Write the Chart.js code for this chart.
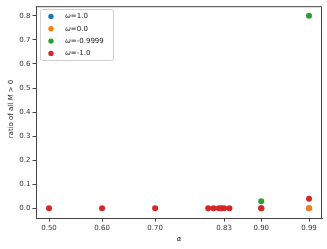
<!DOCTYPE html>
<html>
<head>
<meta charset="utf-8">
<script src="https://cdn.jsdelivr.net/npm/chart.js@4"></script>
<style>
    html, body { margin: 0; padding: 0; background: #fff; }
    #wrap { width: 327px; height: 249px; }
</style>
</head>
<body>
<div id="wrap"><canvas id="chart"></canvas></div>
<script>
const seriesNames = ['ω=1.0', 'ω=0.0', 'ω=-0.9999', 'ω=-1.0']
const seriesColors = ['#1f77b4', '#ff7f0e', '#2ca02c', '#d62728']

// alpha values and ratios per series
const blueX = [0.90, 0.99]
const blueY = [0.0, 0.0]
const orangeX = [0.90, 0.99]
const orangeY = [0.0, 0.0]
const greenX = [0.90, 0.99]
const greenY = [0.03, 0.80]
const redX = [0.50, 0.60, 0.70, 0.80, 0.81, 0.82, 0.825, 0.83, 0.84, 0.90, 0.99]
const redY = [0.0, 0.0, 0.0, 0.0, 0.0, 0.0, 0.0, 0.0, 0.0, 0.0, 0.04]

const xTicks = [0.50, 0.60, 0.70, 0.83, 0.90, 0.99]
const yTicks = [0.0, 0.1, 0.2, 0.3, 0.4, 0.5, 0.6, 0.7, 0.8]

const ctx = document.getElementById('chart')
const font = { family: 'DejaVu Sans', size: 7 }
const axisColor = '#444'

const toPoints = (xs, ys) => xs.map((x, i) => ({ x: x, y: ys[i] }))
const allX = [blueX, orangeX, greenX, redX]
const allY = [blueY, orangeY, greenY, redY]

// draws text pieces in a row, [text, italic]
const drawParts = (c, parts, x, y) => {
    const widths = parts.map(p => {
        c.font = (p[1] ? 'italic ' : '') + '7px "DejaVu Sans"'
        return c.measureText(p[0]).width
    })
    let pos = x - widths.reduce((a, b) => a + b, 0) / 2
    parts.forEach((p, i) => {
        c.font = (p[1] ? 'italic ' : '') + '7px "DejaVu Sans"'
        c.fillText(p[0], pos, y)
        pos += widths[i]
    })
}

const frame = {
    id: 'frame',
    afterDraw: chart => {
        const c = chart.ctx
        const a = chart.chartArea
        c.save()
        c.strokeStyle = axisColor
        c.lineWidth = 1
        c.beginPath()
        c.moveTo(a.left, a.top + 0.5)
        c.lineTo(a.right - 0.5, a.top + 0.5)
        c.lineTo(a.right - 0.5, a.bottom)
        c.stroke()

        // axis titles
        c.fillStyle = '#222'
        c.textBaseline = 'middle'
        c.textAlign = 'left'
        drawParts(c, [['α', true]], (a.left + a.right) / 2, 239)
        c.save()
        c.translate(11, 109)
        c.rotate(-Math.PI / 2)
        drawParts(c, [['ratio of all ', false], ['M', true], [' > 0', false]], 0, 0)
        c.restore()

        // legend
        const lx = 40, ly = 9, lw = 73, lh = 51
        c.fillStyle = 'rgba(255,255,255,0.85)'
        c.strokeStyle = '#d0d0d0'
        c.lineWidth = 1
        c.beginPath()
        c.roundRect(lx + 0.5, ly + 0.5, lw, lh, 2)
        c.fill()
        c.stroke()
        seriesNames.forEach((name, i) => {
            const y = 16.5 + i * 12.3
            c.fillStyle = seriesColors[i]
            c.beginPath()
            c.arc(51, y, 2.7, 0, Math.PI * 2)
            c.fill()
            c.fillStyle = '#222'
            c.font = 'italic 7px "DejaVu Sans"'
            c.fillText('ω', 65, y)
            const w = c.measureText('ω').width
            c.font = '7px "DejaVu Sans"'
            c.fillText(name.slice(1), 65 + w, y)
        })
        c.restore()
    }
}

new Chart(ctx, {
    type: 'scatter',
    data: {
        datasets: seriesNames.map((name, i) => ({
            label: name,
            data: toPoints(allX[i], allY[i]),
            backgroundColor: seriesColors[i],
            borderColor: seriesColors[i],
            pointRadius: 3,
            borderWidth: 0,
            order: seriesNames.length - i
        }))
    },
    options: {
        responsive: true,
        maintainAspectRatio: false,
        animation: false,
        layout: { padding: { top: 5, right: 5, left: 0, bottom: 0 } },
        plugins: {
            legend: { display: false },
            tooltip: { enabled: false }
        },
        scales: {
            x: {
                type: 'linear',
                min: 0.4755,
                max: 1.0145,
                afterBuildTicks: s => { s.ticks = xTicks.map(v => ({ value: v })) },
                afterFit: s => { s.height = 31 },
                ticks: {
                    font: font,
                    color: '#333',
                    padding: 2,
                    maxRotation: 0,
                    autoSkip: false,
                    callback: v => v.toFixed(2)
                },
                grid: { drawOnChartArea: false, drawTicks: true, tickLength: 3.5, color: axisColor },
                border: { color: axisColor, width: 1 }
            },
            y: {
                type: 'linear',
                min: -0.04,
                max: 0.84,
                afterBuildTicks: s => { s.ticks = yTicks.map(v => ({ value: v })) },
                afterFit: s => { s.width = 36 },
                ticks: {
                    font: font,
                    color: '#333',
                    padding: 2,
                    autoSkip: false,
                    callback: v => v.toFixed(1)
                },
                grid: { drawOnChartArea: false, drawTicks: true, tickLength: 3.5, color: axisColor },
                border: { color: axisColor, width: 1 }
            }
        }
    },
    plugins: [frame]
})
</script>
</body>
</html>
